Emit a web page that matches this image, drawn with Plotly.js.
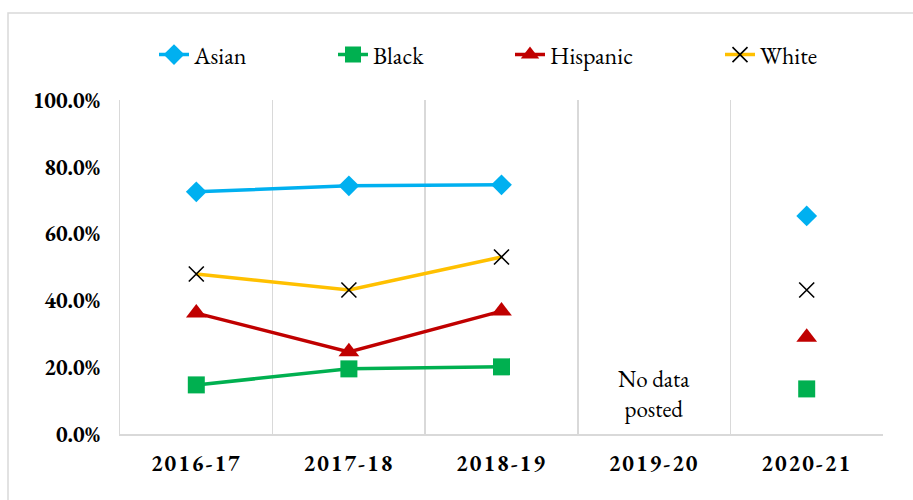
<!DOCTYPE html>
<html>
<head>
<meta charset="utf-8">
<script src="https://cdn.plot.ly/plotly-3.0.1.min.js"></script>
<style>
html,body{margin:0;padding:0;background:#fff;}
#chart{width:913px;height:500px;}
#chart .xtick text{letter-spacing:2px;}
</style>
</head>
<body>
<div id="chart"></div>
<script>
const years = ["2016-17", "2017-18", "2018-19", "2019-20", "2020-21"];
const asian = [0.725, 0.743, 0.746, null, 0.653];
const black = [0.147, 0.195, 0.201, null, 0.135];
const hispanic = [0.362, 0.246, 0.368, null, 0.290];
const white = [0.479, 0.431, 0.530, null, 0.431];
const noDataLabel = "No data<br>posted";

const serif = "EB Garamond";

function tr(name, y, lineColor, marker, legendId) {
  return {
    type: "scatter", mode: "lines+markers", name: name, x: years, y: y,
    connectgaps: false,
    line: {color: lineColor, width: 3.5},
    marker: marker,
    legend: legendId,
    hoverinfo: "x+y"
  };
}

const traces = [
  tr("Asian", asian, "#00B0F0", {symbol: "diamond", size: 16, color: "#00B0F0"}, "legend"),
  tr("Black", black, "#00B050", {symbol: "square", size: 17, color: "#00B050"}, "legend2"),
  tr("Hispanic", hispanic, "#C00000", {symbol: "triangle-up", size: 18, color: "#C00000"}, "legend3"),
  tr("White", white, "#FFC000", {symbol: "x-thin-open", size: 15, color: "#000000", line: {color: "#000000", width: 1.6}}, "legend4")
];

const legFont = {family: serif, size: 24, color: "#000"};
function leg(xpx) {
  return {orientation: "h", x: (xpx - 120) / 763, y: (434 - 55) / 334, xanchor: "left", yanchor: "middle",
          font: legFont, bgcolor: "rgba(0,0,0,0)", itemwidth: 30};
}

const layout = {
  width: 913, height: 500,
  margin: {l: 120, r: 30, t: 100, b: 66},
  paper_bgcolor: "#fff", plot_bgcolor: "#fff",
  font: {family: serif},
  showlegend: true,
  legend: leg(154), legend2: leg(333), legend3: leg(510), legend4: leg(720),
  xaxis: {
    type: "category", categoryorder: "array", categoryarray: years,
    range: [-0.5, 4.5],
    tickson: "boundaries", showgrid: true, gridcolor: "#d9d9d9", gridwidth: 1.5,
    showline: true, linecolor: "#d9d9d9", linewidth: 1.5,
    ticks: "", zeroline: false,
    tickfont: {family: serif, size: 22, color: "#000", weight: "bold"},
    ticklabelstandoff: 9
  },
  yaxis: {
    range: [0, 1], dtick: 0.2, tick0: 0, tickformat: ".1%",
    showgrid: false, zeroline: false,
    showline: true, linecolor: "#d9d9d9", linewidth: 1.5,
    ticks: "", ticklabelstandoff: 14,
    tickfont: {family: serif, size: 22, color: "#000", weight: "bold"}
  },
  annotations: [{
    x: years[3], y: 0.12, xref: "x", yref: "y", text: noDataLabel, showarrow: false,
    font: {family: serif, size: 23, color: "#000"}, align: "center"
  }],
  shapes: [{
    type: "rect", xref: "paper", yref: "paper",
    x0: (8 - 120) / 763, x1: 1.1, y0: -0.3, y1: (434 - 13) / 334,
    line: {color: "#d9d9d9", width: 1.5}, fillcolor: "rgba(0,0,0,0)", layer: "below"
  }]
};

Plotly.newPlot("chart", traces, layout, {displayModeBar: false, staticPlot: true});
</script>
</body>
</html>
